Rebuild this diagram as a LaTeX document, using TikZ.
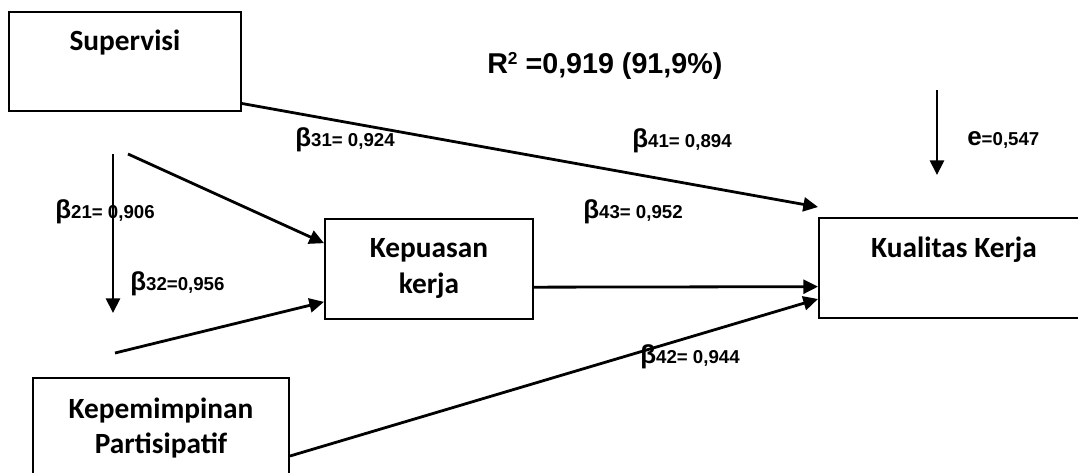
\documentclass[tikz,border=0pt]{standalone}
\usepackage{fontspec}
\setmainfont{Carlito}
\newfontfamily\arial{Liberation Sans}
\usetikzlibrary{arrows.meta}
\newcommand{\koef}[2]{{\fontsize{19.5pt}{20pt}\selectfont #1}{\fontsize{14pt}{16pt}\selectfont #2}}
\tikzset{%
  varbox/.style = {shape=rectangle, draw, line width=1.5pt,%
                   align=center, inner sep=0pt,%
                   font=\bfseries\fontsize{22pt}{26.5pt}\selectfont},%
  topbox/.style = {varbox, text height=15pt, text depth=31.5pt},%
  panah/.style  = {line width=2.1pt, -{Triangle[length=11pt,width=10.5pt]}},%
  lbl/.style    = {anchor=base west, inner sep=0pt, font=\arial\bfseries}%
}
\begin{document}
\begin{tikzpicture}[x=0.75pt,y=-0.75pt]
	\clip (0,0) rectangle (1078,472);
	\node [topbox, minimum width=174pt, minimum height=74.25pt] (sup) at (125,61) {Supervisi};
	\node [varbox, minimum width=156pt, minimum height=75pt] (kpu) at (429,268.5) {Kepuasan\\kerja};
	\node [topbox, minimum width=202.5pt, minimum height=75pt] (kual) at (954,268) {Kualitas Kerja};
	\node [varbox, minimum width=192pt, minimum height=75pt] (kep) at (161,428) {Kepemimpinan\\Partisipatif};
	\coordinate (v1) at (113,154);
	\coordinate (v2) at (113,313);
	\coordinate (d1) at (128,154);
	\coordinate (l1) at (115,353);
	\coordinate (e1) at (937,90);
	\coordinate (e2) at (937,175);
	\draw [panah] ([yshift=6pt]sup.south east) -- ([yshift=7.5pt]kual.north west);
	\draw [panah] ([yshift=-14pt]kpu.east) -- ([yshift=-14pt]kual.west);
	\draw [panah] ([yshift=-21pt]kep.east) -- ([yshift=-23.25pt]kual.west);
	\draw [panah] (d1) -- ([yshift=19pt]kpu.west);
	\draw [panah] (l1) -- ([yshift=-25pt]kpu.west);
	\draw [panah] (v1) -- (v2);
	\draw [panah] (e1) -- (e2);
	\node [lbl] (rsq) at (487,73) {\fontsize{21.5pt}{24pt}\selectfont R\raisebox{6.5pt}{\fontsize{13pt}{14pt}\selectfont 2} =0,919 (91,9\%)};
	\node [lbl] (b31) at (295,146) {\koef{β}{31= 0,924}};
	\node [lbl] (b41) at (632,147) {\koef{β}{41= 0,894}};
	\node [lbl] (err) at (967,145) {\koef{e}{=0,547}};
	\node [lbl] (b21) at (55,218) {\koef{β}{21= 0,906}};
	\node [lbl] (b43) at (583,218) {\koef{β}{43= 0,952}};
	\node [lbl] (b32) at (130,290) {\koef{β}{32=0,956}};
	\node [lbl] (b42) at (640,363) {\koef{β}{42= 0,944}};
\end{tikzpicture}
\end{document}
